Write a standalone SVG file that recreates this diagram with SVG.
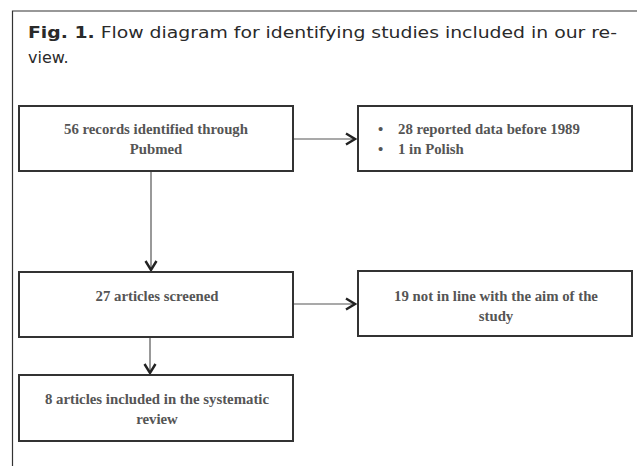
<svg xmlns="http://www.w3.org/2000/svg" width="637" height="466" viewBox="0 0 637 466">
<style>
.frame{fill:none;stroke:#333;stroke-width:1.2}
.box{fill:#fff;stroke:#333;stroke-width:2}
.t{font-family:"Liberation Serif",serif;font-weight:bold;font-size:14.8px;fill:#555}
.c{text-anchor:middle}
.cap{font-family:"DejaVu Sans","Liberation Sans",sans-serif;font-size:16px;fill:#2a2a2a}
.conn{stroke:#555;stroke-width:1.2;fill:none}
</style>
<defs>
<marker id="ah" viewBox="0 0 14 14" refX="12" refY="7" markerWidth="14" markerHeight="14" markerUnits="userSpaceOnUse" orient="auto">
<path d="M3,1.5 L12,7 L3,12.5" fill="none" stroke="#222" stroke-width="2.4"/>
</marker>
</defs>
<rect width="637" height="466" fill="#fff"/>
<path class="frame" d="M12.5,466 V11 H637"/>
<g id="caption">
<text class="cap" x="28" y="38" textLength="589" lengthAdjust="spacingAndGlyphs"><tspan font-weight="bold">Fig. 1.</tspan> Flow diagram for identifying studies included in our re-</text>
<text class="cap" x="28" y="63">view.</text>
</g>
<g id="connectors">
<line class="conn" x1="151" y1="171" x2="151" y2="270" marker-end="url(#ah)"/>
<line class="conn" x1="293" y1="139" x2="355" y2="139" marker-end="url(#ah)"/>
<line class="conn" x1="150" y1="337" x2="150" y2="373" marker-end="url(#ah)"/>
<line class="conn" x1="293" y1="304" x2="355" y2="304" marker-end="url(#ah)"/>
</g>
<g id="n1">
<rect class="box" x="19" y="106" width="274" height="65"/>
<text class="t c" x="156" y="134">56 records identified through</text>
<text class="t c" x="156" y="154">Pubmed</text>
</g>
<g id="n2">
<rect class="box" x="358" y="106" width="274" height="65"/>
<text class="t" x="378" y="134">•</text>
<text class="t" x="398" y="134">28 reported data before 1989</text>
<text class="t" x="378" y="154">•</text>
<text class="t" x="398" y="154">1 in Polish</text>
</g>
<g id="n3">
<rect class="box" x="19" y="272" width="274" height="65"/>
<text class="t c" x="157" y="301">27 articles screened</text>
</g>
<g id="n4">
<rect class="box" x="358" y="271" width="274" height="65"/>
<text class="t c" x="496" y="301">19 not in line with the aim of the</text>
<text class="t c" x="496" y="321">study</text>
</g>
<g id="n5">
<rect class="box" x="19" y="375" width="274" height="66"/>
<text class="t c" x="157" y="404">8 articles included in the systematic</text>
<text class="t c" x="157" y="424">review</text>
</g>
</svg>
